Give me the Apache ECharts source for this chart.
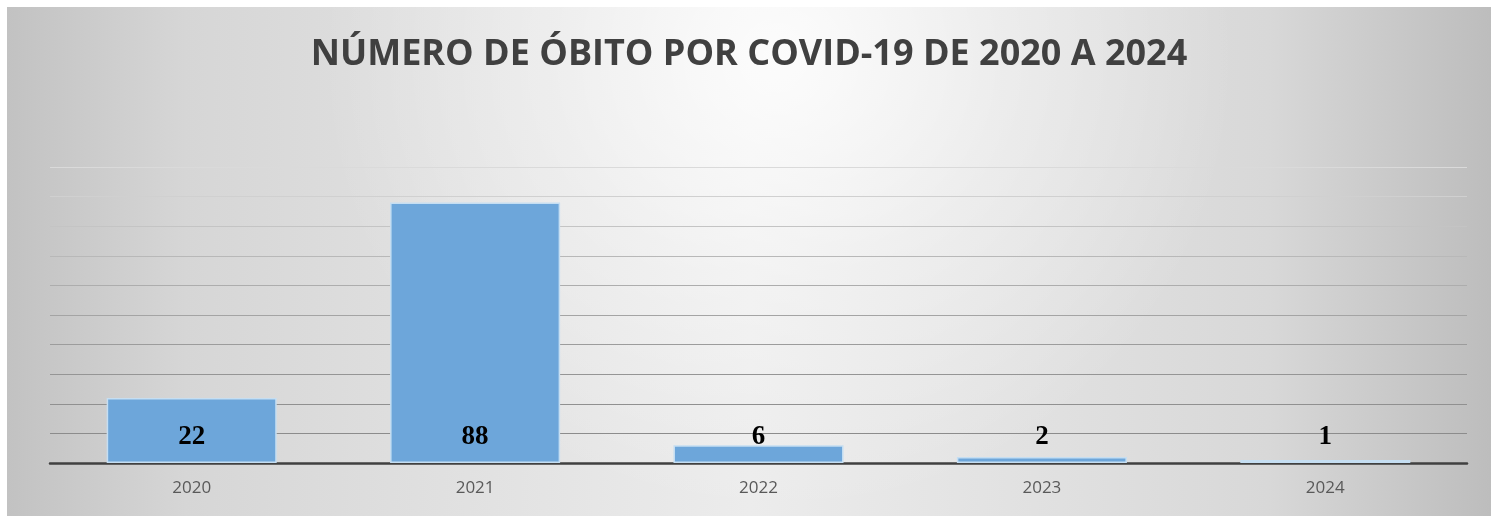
<!DOCTYPE html>
<html>
<head>
<meta charset="utf-8">
<script src="https://cdn.jsdelivr.net/npm/echarts@6/dist/echarts.min.js"></script>
<style>
html,body{margin:0;padding:0;background:#fff;}
#c{position:absolute;left:7px;top:7px;width:1484px;height:509px;}
</style>
</head>
<body>
<div id="c"></div>
<script>
const categories = ['2020', '2021', '2022', '2023', '2024'];
const deaths = [22, 88, 6, 2, 1];
const titleText = 'NÚMERO DE ÓBITO POR COVID-19 DE 2020 A 2024';

const chart = echarts.init(document.getElementById('c'), null, {renderer: 'canvas'});
chart.setOption({
  backgroundColor: {
    type: 'linear', x: 0, y: 0, x2: 1, y2: 0,
    colorStops: [
      {offset: 0, color: '#c2c2c2'},
      {offset: 0.12, color: '#d6d6d6'},
      {offset: 0.5, color: '#ececec'},
      {offset: 0.85, color: '#d8d8d8'},
      {offset: 1, color: '#bdbdbd'}
    ]
  },
  graphic: {
    elements: [{
      type: 'rect', left: 0, top: 0, z: -100, silent: true,
      shape: {width: 1484, height: 509},
      style: {
        fill: {
          type: 'radial', x: 0.52, y: 0.1, r: 0.9,
          colorStops: [
            {offset: 0, color: 'rgba(255,255,255,0.85)'},
            {offset: 0.5, color: 'rgba(255,255,255,0.35)'},
            {offset: 1, color: 'rgba(255,255,255,0)'}
          ]
        }
      }
    }]
  },
  title: {
    text: titleText,
    left: 'center',
    top: 25,
    textStyle: {fontFamily: 'Open Sans', fontWeight: 'bold', fontSize: 36, color: '#404040'}
  },
  grid: {left: 43, right: 24, top: 160, bottom: 53},
  xAxis: {
    type: 'category',
    data: categories,
    axisLine: {lineStyle: {color: '#404040', width: 2.5}},
    axisTick: {show: false},
    axisLabel: {fontFamily: 'Open Sans', fontSize: 17, color: '#595959', margin: 17}
  },
  yAxis: {
    type: 'value',
    min: 0, max: 100, interval: 10,
    axisLabel: {show: false},
    axisLine: {show: false},
    axisTick: {show: false},
    splitLine: {lineStyle: {color: ['#8a8a8a','#8c8c8c','#909090','#959595','#9c9c9c','#a4a4a4','#adadad','#b8b8b8','#c4c4c4','#d0d0d0','#dadada'], width: 1.2}}
  },
  series: [{
    type: 'bar',
    data: deaths,
    barWidth: '60%',
    itemStyle: {color: '#6da6da', borderColor: '#c5def2', borderWidth: 1.5},
    label: {
      show: true,
      position: 'insideBottom',
      distance: 12,
      fontFamily: 'Liberation Serif',
      fontWeight: 'bold',
      fontSize: 27,
      color: '#000'
    }
  }]
});
</script>
</body>
</html>
